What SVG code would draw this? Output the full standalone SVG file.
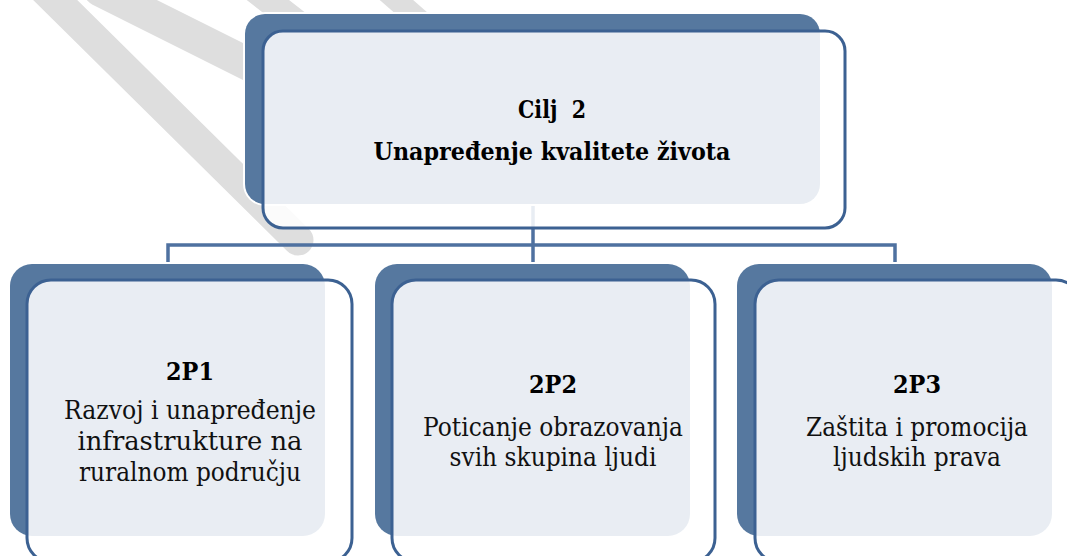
<svg xmlns="http://www.w3.org/2000/svg" width="1067" height="556" viewBox="0 0 1067 556">
  <style>
    .band { stroke: #dedede; fill: none; stroke-linecap: round; }
    .back { fill: #56789f; stroke: #ffffff; stroke-width: 4; paint-order: stroke; }
    .front { fill: #ffffff; fill-opacity: 0.87; stroke: #3c6192; stroke-width: 3; }
    .conn { stroke: #4f71a0; stroke-width: 3.5; fill: none; }
    text { font-family: 'DejaVu Serif', serif; fill: #000; text-anchor: middle; }
    .title { font-weight: bold; font-size: 25px; }
    .code { font-weight: bold; font-size: 25px; }
    .body { font-size: 26px; fill: #111; }
  </style>
  <rect width="1067" height="556" fill="#ffffff"/>

  <g id="watermark">
    <line class="band" x1="40" y1="-15" x2="298" y2="240" stroke-width="31"/>
    <line class="band" x1="100" y1="-10" x2="270" y2="75" stroke-width="33" stroke-linecap="butt"/>
    <line class="band" x1="255" y1="-10" x2="300" y2="25" stroke-width="26" stroke-linecap="butt"/>
    <line class="band" x1="385" y1="-10" x2="425" y2="25" stroke-width="22" stroke-linecap="butt"/>
  </g>

  <g id="connectors">
    <line class="conn" x1="533" y1="204" x2="533" y2="264"/>
    <polyline class="conn" points="168,264 168,245 895,245 895,264"/>
  </g>

  <g id="goal">
    <rect class="back" x="245" y="14" width="575" height="190" rx="20"/>
    <rect class="front" x="263" y="31" width="582" height="197" rx="20"/>
    <text class="title" x="552" y="118" xml:space="preserve" textLength="68" lengthAdjust="spacingAndGlyphs">Cilj  2</text>
    <text class="title" x="552" y="160" textLength="357" lengthAdjust="spacingAndGlyphs">Unapređenje kvalitete života</text>
  </g>

  <g id="p1">
    <rect class="back" x="10" y="264" width="315" height="272" rx="22"/>
    <rect class="front" x="27" y="280" width="325" height="282" rx="24"/>
    <text class="code" x="190" y="380" textLength="48" lengthAdjust="spacingAndGlyphs">2P1</text>
    <text class="body" x="190" y="419" textLength="252" lengthAdjust="spacingAndGlyphs">Razvoj i unapređenje</text>
    <text class="body" x="190" y="450" textLength="225" lengthAdjust="spacingAndGlyphs">infrastrukture na</text>
    <text class="body" x="190" y="481" textLength="222" lengthAdjust="spacingAndGlyphs">ruralnom području</text>
  </g>

  <g id="p2">
    <rect class="back" x="375" y="264" width="315" height="272" rx="22"/>
    <rect class="front" x="392" y="280" width="323" height="282" rx="24"/>
    <text class="code" x="553" y="393" textLength="48" lengthAdjust="spacingAndGlyphs">2P2</text>
    <text class="body" x="553" y="436" textLength="260" lengthAdjust="spacingAndGlyphs">Poticanje obrazovanja</text>
    <text class="body" x="553" y="466" textLength="207" lengthAdjust="spacingAndGlyphs">svih skupina ljudi</text>
  </g>

  <g id="p3">
    <rect class="back" x="737" y="264" width="315" height="272" rx="22"/>
    <rect class="front" x="755" y="280" width="325" height="282" rx="24"/>
    <text class="code" x="917" y="393" textLength="48" lengthAdjust="spacingAndGlyphs">2P3</text>
    <text class="body" x="917" y="436" textLength="222" lengthAdjust="spacingAndGlyphs">Zaštita i promocija</text>
    <text class="body" x="917" y="466" textLength="168" lengthAdjust="spacingAndGlyphs">ljudskih prava</text>
  </g>
</svg>
